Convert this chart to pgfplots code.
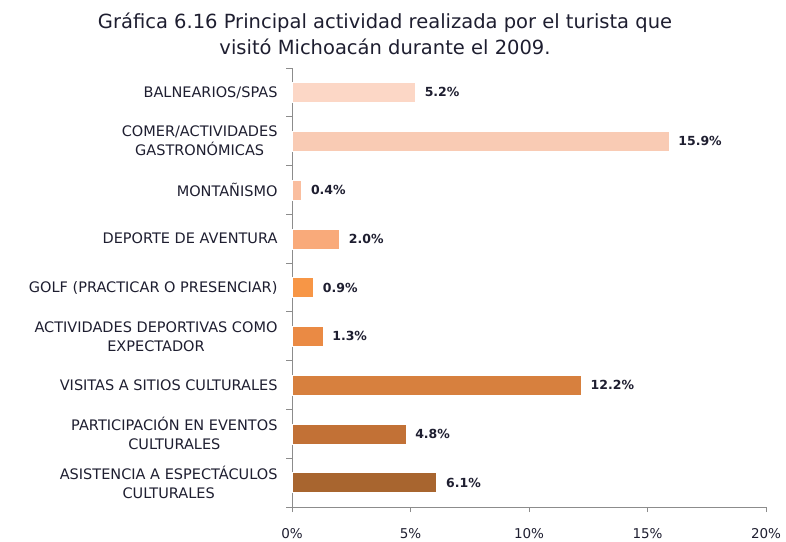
\documentclass[border=0pt]{standalone}
\usepackage{fontspec}
\setmainfont{DejaVu Sans}
\usepackage{pgfplots}
\pgfplotsset{compat=1.18}
\definecolor{c1}{HTML}{FCD7C6}
\definecolor{c2}{HTML}{F9CBB4}
\definecolor{c3}{HTML}{FABE9F}
\definecolor{c4}{HTML}{F9AA7A}
\definecolor{c5}{HTML}{F79646}
\definecolor{c6}{HTML}{EA8A44}
\definecolor{c7}{HTML}{D7803E}
\definecolor{c8}{HTML}{C27136}
\definecolor{c9}{HTML}{A8652F}
\definecolor{txt}{HTML}{1E1E30}
\definecolor{axc}{HTML}{8C8C8C}
\begin{document}
\begin{tikzpicture}
\useasboundingbox (0,0) rectangle (786pt,541pt);
\node[align=center, font=\fontsize{19.5}{26}\selectfont, text=txt] at (385pt,507pt)
  {Gráfica 6.16 Principal actividad realizada por el turista que\\visitó Michoacán durante el 2009.};
\begin{axis}[
  at={(292pt,34pt)}, anchor=south west,
  scale only axis, width=474pt, height=439pt,
  xbar, bar width=20pt, bar shift=0pt,
  xmin=0, xmax=20, ymin=0.5, ymax=9.5,
  axis x line*=bottom, axis y line*=left,
  axis line style={axc, line width=0.8pt},
  xtick={0,5,10,15,20},
  xticklabels={0\%,5\%,10\%,15\%,20\%},
  ytick={1,...,9},
  yticklabels={{ASISTENCIA A ESPECTÁCULOS\\CULTURALES},{PARTICIPACIÓN EN EVENTOS\\CULTURALES},{VISITAS A SITIOS CULTURALES},{ACTIVIDADES DEPORTIVAS COMO\\EXPECTADOR},{GOLF (PRACTICAR O PRESENCIAR)},{DEPORTE DE AVENTURA},{MONTAÑISMO},{COMER/ACTIVIDADES\\GASTRONÓMICAS},{BALNEARIOS/SPAS}},
  yticklabel style={align=center, font=\fontsize{14.5}{19}\selectfont, text=txt, xshift=-6pt},
  xticklabel style={font=\fontsize{13.5}{15}\selectfont, text=txt, yshift=-13pt},
  minor ytick={0.5,1.5,...,9.5},
  tick align=outside,
  major tick length=5pt, minor tick length=6pt,
  y tick style={draw=none},
  minor y tick style={draw=axc, line width=0.8pt},
  x tick style={axc, line width=0.8pt},
  nodes near coords,
  point meta=explicit symbolic,
  every node near coord/.style={anchor=west, xshift=6pt, font=\bfseries\fontsize{12.5}{14}\selectfont, text=txt},
  clip=false,
]
\addplot[fill=c1, draw=white] coordinates {(5.2,9) [5.2\%]};
\addplot[fill=c2, draw=white] coordinates {(15.9,8) [15.9\%]};
\addplot[fill=c3, draw=white] coordinates {(0.4,7) [0.4\%]};
\addplot[fill=c4, draw=white] coordinates {(2.0,6) [2.0\%]};
\addplot[fill=c5, draw=white] coordinates {(0.9,5) [0.9\%]};
\addplot[fill=c6, draw=white] coordinates {(1.3,4) [1.3\%]};
\addplot[fill=c7, draw=white] coordinates {(12.2,3) [12.2\%]};
\addplot[fill=c8, draw=white] coordinates {(4.8,2) [4.8\%]};
\addplot[fill=c9, draw=white] coordinates {(6.1,1) [6.1\%]};
\end{axis}
\end{tikzpicture}
\end{document}
